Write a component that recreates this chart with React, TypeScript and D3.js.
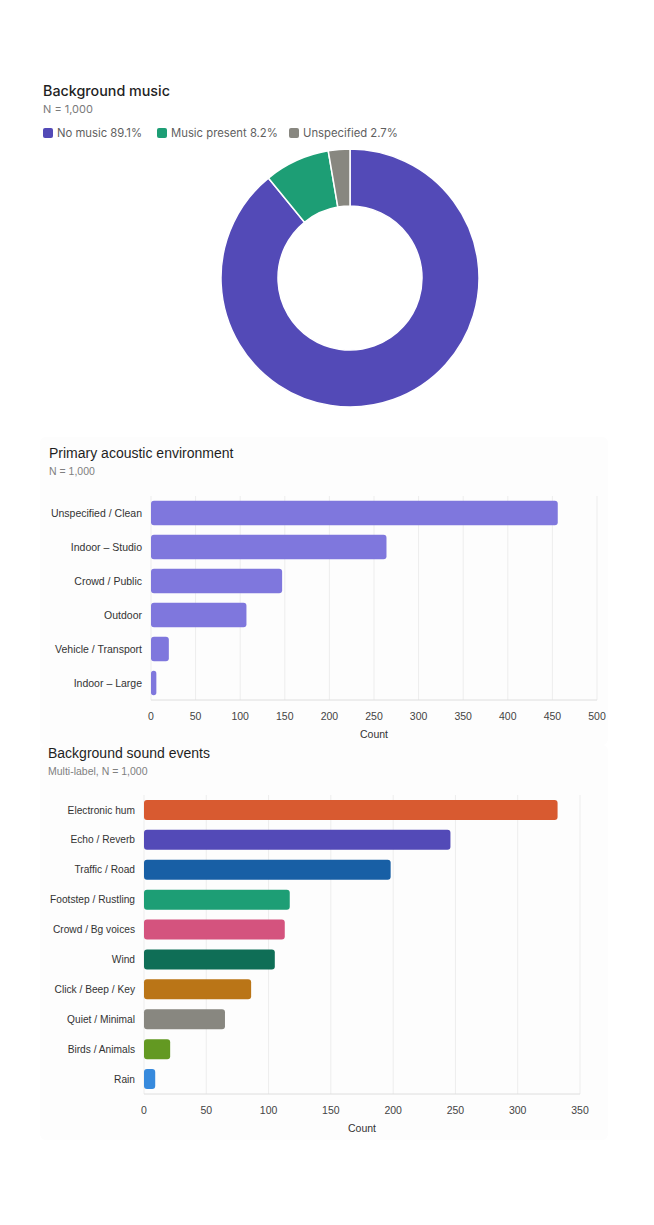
import React from "react";
import * as d3 from "d3";

// Background music split (percent of N = 1,000)
const musicLabels = ["No music", "Music present", "Unspecified"];
const musicShares = [89.1, 8.2, 2.7];
const musicColors = ["#534AB7", "#1D9E75", "#888780"];

// Primary acoustic environment counts
const envCategories = [
  "Unspecified / Clean",
  "Indoor – Studio",
  "Crowd / Public",
  "Outdoor",
  "Vehicle / Transport",
  "Indoor – Large",
];
const envCounts = [456, 264, 147, 107, 20, 6];
const envTicks = [0, 50, 100, 150, 200, 250, 300, 350, 400, 450, 500];
const envColor = "#7F77DD";

// Background sound events counts (multi-label)
const eventCategories = [
  "Electronic hum",
  "Echo / Reverb",
  "Traffic / Road",
  "Footstep / Rustling",
  "Crowd / Bg voices",
  "Wind",
  "Click / Beep / Key",
  "Quiet / Minimal",
  "Birds / Animals",
  "Rain",
];
const eventCounts = [332, 246, 198, 117, 113, 105, 86, 65, 21, 9];
const eventColors = [
  "#D85A30",
  "#534AB7",
  "#185FA5",
  "#1D9E75",
  "#D4537E",
  "#0F6E56",
  "#BA7517",
  "#888780",
  "#639922",
  "#378ADD",
];
const eventTicks = [0, 50, 100, 150, 200, 250, 300, 350];

const SANS = "Inter, 'Liberation Sans', Arial, sans-serif";
const HELV = "'Liberation Sans', Arial, Helvetica, sans-serif";

function Donut() {
  const cx = 350;
  const cy = 278;
  const outer = 129;
  const inner = 72;
  const pie = d3
    .pie<number>()
    .sort(null)
    .value((d) => d);
  const arcs = pie(musicShares);
  const arc = d3.arc<d3.PieArcDatum<number>>().innerRadius(inner).outerRadius(outer);

  const legendX = [43, 157, 289];

  return (
    <g>
      <text x={43} y={96} fontFamily={SANS} fontSize={14.3} fontWeight={500} fill="#1f1f1f">
        Background music
      </text>
      <text x={43} y={113} fontFamily={SANS} fontSize={11} fill="#7a7a7a">
        N = 1,000
      </text>
      {musicLabels.map((lab, i) => (
        <g key={lab} transform={`translate(${legendX[i]},133)`}>
          <rect x={0} y={-5} width={10} height={10} rx={2} fill={musicColors[i]} />
          <text x={14} y={4.3} fontFamily={SANS} fontSize={11.3} fill="#5f5f5f">
            {`${lab} ${musicShares[i]}%`}
          </text>
        </g>
      ))}
      <g transform={`translate(${cx},${cy})`}>
        {arcs.map((a, i) => (
          <path key={i} d={arc(a) || ""} fill={musicColors[i]} stroke="#fff" strokeWidth={1.5} />
        ))}
      </g>
    </g>
  );
}

type BarProps = {
  title: string;
  subtitle: string;
  categories: string[];
  values: number[];
  colors: string[];
  ticks: number[];
  xMax: number;
  x0: number;
  x1: number;
  titleX: number;
  titleY: number;
  plotTop: number;
  plotBottom: number;
  padding: number;
  labelSize: number;
  panel: [number, number, number, number];
};

function BarChart(p: BarProps) {
  const x = d3.scaleLinear().domain([0, p.xMax]).range([p.x0, p.x1]);
  const y = d3
    .scaleBand<string>()
    .domain(p.categories)
    .range([p.plotTop, p.plotBottom])
    .paddingInner(p.padding)
    .paddingOuter(p.padding / 2);
  const bw = y.bandwidth();
  const [px, py, pw, ph] = p.panel;
  return (
    <g>
      <rect x={px} y={py} width={pw} height={ph} rx={6} fill="#fdfdfd" />
      <text x={p.titleX} y={p.titleY} fontFamily={HELV} fontSize={14} fill="#1f1f1f">
        {p.title}
      </text>
      <text x={p.titleX} y={p.titleY + 17} fontFamily={HELV} fontSize={10.5} fill="#808080">
        {p.subtitle}
      </text>
      {p.ticks.map((t) => (
        <line
          key={t}
          x1={x(t)}
          x2={x(t)}
          y1={p.plotTop}
          y2={p.plotBottom}
          stroke="#ededed"
          strokeWidth={1}
        />
      ))}
      <line
        x1={p.x0}
        x2={p.x1}
        y1={p.plotBottom}
        y2={p.plotBottom}
        stroke="#dedede"
        strokeWidth={1}
      />
      {p.categories.map((c, i) => {
        const w = x(p.values[i]) - x(0);
        const yy = y(c) as number;
        return (
          <g key={c}>
            <rect
              x={x(0)}
              y={yy}
              width={w}
              height={bw}
              rx={Math.min(3, w / 2)}
              fill={p.colors[i % p.colors.length]}
            />
            <text
              x={p.x0 - 9}
              y={yy + bw / 2}
              dy="0.35em"
              textAnchor="end"
              fontFamily={HELV}
              fontSize={p.labelSize}
              fill="#333"
            >
              {c}
            </text>
          </g>
        );
      })}
      {p.ticks.map((t) => (
        <text
          key={t}
          x={x(t)}
          y={p.plotBottom + 20}
          textAnchor="middle"
          fontFamily={HELV}
          fontSize={10.5}
          fill="#444"
        >
          {t}
        </text>
      ))}
      <text
        x={(p.x0 + p.x1) / 2}
        y={p.plotBottom + 38}
        textAnchor="middle"
        fontFamily={HELV}
        fontSize={10.5}
        fill="#333"
      >
        Count
      </text>
    </g>
  );
}

export default function App() {
  return (
    <div style={{ position: "absolute", left: 0, top: 0 }}>
      <svg width={654} height={1225} style={{ display: "block", background: "#fff" }}>
        <Donut />
        <BarChart
          title="Primary acoustic environment"
          subtitle="N = 1,000"
          categories={envCategories}
          values={envCounts}
          colors={[envColor]}
          ticks={envTicks}
          xMax={500}
          x0={151}
          x1={597}
          titleX={49}
          titleY={458}
          plotTop={496}
          plotBottom={700}
          padding={0.28}
          labelSize={10.5}
          panel={[40, 437, 568, 308]}
        />
        <BarChart
          title="Background sound events"
          subtitle="Multi-label, N = 1,000"
          categories={eventCategories}
          values={eventCounts}
          colors={eventColors}
          ticks={eventTicks}
          xMax={350}
          x0={144}
          x1={580}
          titleX={48}
          titleY={758}
          plotTop={795}
          plotBottom={1094}
          padding={0.33}
          labelSize={10.2}
          panel={[40, 745, 568, 395]}
        />
      </svg>
    </div>
  );
}
